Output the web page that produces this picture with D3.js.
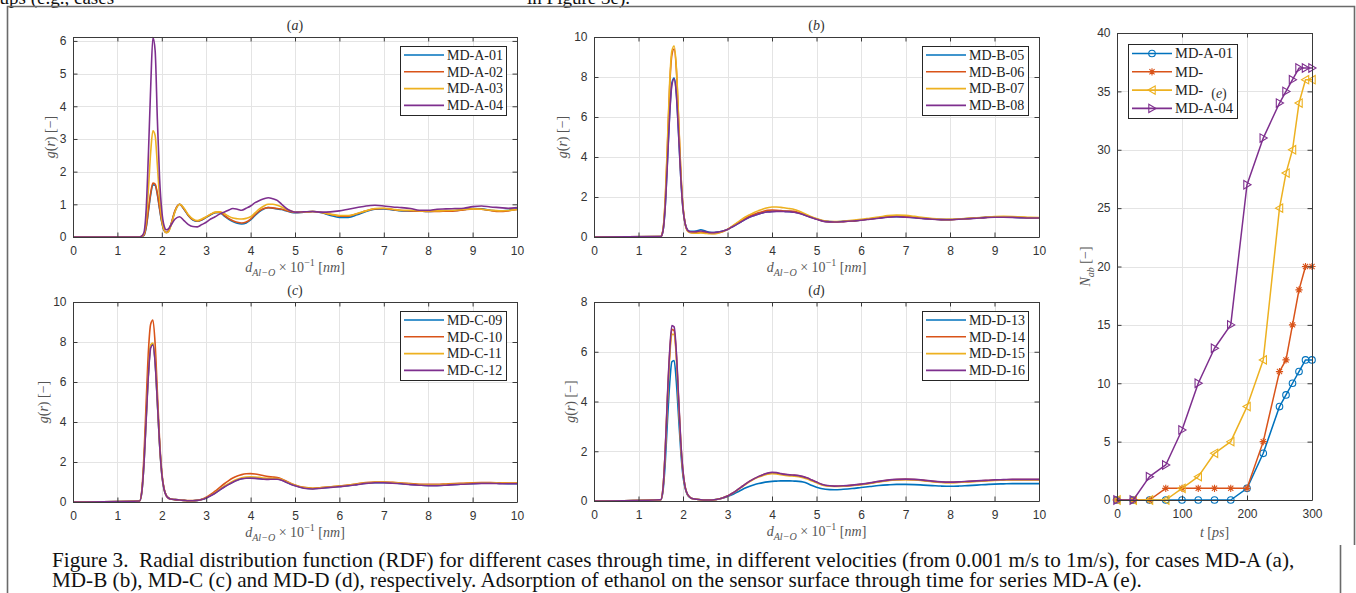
<!DOCTYPE html>
<html>
<head>
<meta charset="utf-8">
<script src="https://cdn.jsdelivr.net/npm/d3@7"></script>
<style>
  body { margin: 0; background: #fff; }
  svg { display: block; }
</style>
</head>
<body>
<script>
// r grid shared by all RDF curves (d_Al-O x 10^-1 nm)
const rGrid = [0,
  1.5,1.55,1.6,1.65,1.7,1.75,1.8,1.85,1.9,1.95,2.0,2.05,2.1,2.15,2.2,
  2.3,2.4,2.5,2.6,2.7,2.8,2.9,3.0,3.1,3.2,3.3,3.4,3.5,3.6,3.7,3.8,3.9,4.0,4.1,4.2,4.3,4.4,4.5,4.6,4.7,4.8,4.9,5.0,
  5.2,5.4,5.6,5.8,6.0,6.2,6.4,6.6,6.8,7.0,7.2,7.4,7.6,7.8,8.0,8.2,8.4,8.6,8.8,9.0,9.2,9.4,9.6,9.8,10];
const rTicks = [0,1,2,3,4,5,6,7,8,9,10];

// (a) MD-A
const gA01 = [0,
  0,0.02,0.05,0.3,0.8,1.3,1.6,1.58,1.3,0.85,0.45,0.2,0.14,0.18,0.35,
  0.8,1.0,0.85,0.65,0.52,0.48,0.52,0.6,0.68,0.74,0.75,0.65,0.55,0.47,0.42,0.4,0.43,0.52,0.66,0.78,0.86,0.9,0.88,0.86,0.84,0.8,0.76,0.74,
  0.76,0.78,0.74,0.66,0.6,0.6,0.68,0.78,0.85,0.86,0.83,0.8,0.8,0.79,0.78,0.79,0.8,0.81,0.84,0.87,0.86,0.82,0.8,0.82,0.86];
const gA02 = [0,
  0,0.02,0.06,0.33,0.85,1.35,1.65,1.62,1.33,0.88,0.47,0.21,0.14,0.18,0.36,
  0.82,1.0,0.86,0.66,0.53,0.49,0.53,0.61,0.69,0.75,0.76,0.67,0.57,0.5,0.45,0.43,0.46,0.55,0.68,0.8,0.87,0.9,0.89,0.87,0.85,0.81,0.77,0.75,
  0.76,0.78,0.75,0.69,0.64,0.64,0.71,0.8,0.86,0.87,0.84,0.81,0.8,0.79,0.78,0.78,0.79,0.8,0.83,0.86,0.85,0.81,0.78,0.8,0.84];
const gA03 = [0,
  0,0.03,0.1,0.55,1.5,2.6,3.25,3.1,2.2,1.2,0.55,0.22,0.13,0.16,0.32,
  0.78,1.0,0.88,0.68,0.55,0.5,0.55,0.62,0.7,0.76,0.77,0.72,0.64,0.58,0.56,0.55,0.57,0.62,0.74,0.86,0.95,1.0,1.0,0.97,0.92,0.85,0.8,0.76,
  0.76,0.78,0.75,0.7,0.66,0.66,0.72,0.8,0.87,0.88,0.85,0.82,0.82,0.8,0.8,0.8,0.81,0.82,0.84,0.86,0.85,0.82,0.8,0.81,0.84];
const gA04 = [0,
  0,0.03,0.15,0.9,2.6,4.6,6.1,5.7,3.6,1.8,0.8,0.35,0.22,0.25,0.35,
  0.55,0.62,0.5,0.38,0.32,0.31,0.38,0.45,0.55,0.62,0.7,0.76,0.82,0.87,0.85,0.82,0.88,0.95,1.05,1.12,1.17,1.2,1.17,1.12,1.0,0.88,0.8,0.76,
  0.77,0.78,0.76,0.77,0.8,0.85,0.9,0.95,0.97,0.95,0.92,0.9,0.87,0.82,0.82,0.85,0.86,0.87,0.88,0.93,0.95,0.92,0.9,0.88,0.9];

// (b) MD-B
const gB05 = [0,
  0.02,0.3,1.5,3.8,6.2,7.7,7.95,7.2,5.2,3.0,1.4,0.65,0.35,0.28,0.28,
  0.3,0.36,0.3,0.24,0.22,0.25,0.3,0.38,0.5,0.62,0.75,0.88,1.0,1.08,1.15,1.22,1.26,1.28,1.29,1.29,1.28,1.27,1.25,1.2,1.13,1.05,0.97,0.9,
  0.78,0.76,0.78,0.8,0.85,0.9,0.95,1.0,1.02,1.0,0.97,0.93,0.9,0.87,0.87,0.9,0.92,0.95,0.98,1.0,1.0,0.99,0.97,0.96,0.96];
const gB06 = [0,
  0.02,0.35,1.8,4.5,7.5,9.1,9.4,8.4,5.9,3.3,1.5,0.65,0.32,0.24,0.22,
  0.22,0.24,0.22,0.19,0.18,0.21,0.28,0.38,0.52,0.66,0.8,0.93,1.05,1.14,1.22,1.28,1.33,1.35,1.34,1.32,1.3,1.3,1.28,1.22,1.14,1.05,0.97,0.9,
  0.78,0.75,0.77,0.8,0.85,0.9,0.96,1.02,1.05,1.03,0.99,0.94,0.9,0.87,0.87,0.89,0.92,0.95,0.98,1.0,1.01,1.0,0.98,0.96,0.96];
const gB07 = [0,
  0.02,0.35,1.9,4.7,7.7,9.3,9.55,8.5,6.0,3.3,1.5,0.62,0.3,0.22,0.2,
  0.19,0.2,0.18,0.16,0.16,0.2,0.27,0.38,0.53,0.69,0.85,1.0,1.12,1.23,1.32,1.4,1.46,1.5,1.5,1.48,1.45,1.42,1.38,1.3,1.2,1.1,1.0,0.92,
  0.8,0.77,0.79,0.83,0.88,0.94,1.0,1.07,1.1,1.08,1.03,0.97,0.92,0.89,0.88,0.9,0.93,0.96,0.99,1.02,1.03,1.02,1.0,0.98,0.97];
const gB08 = [0,
  0.02,0.3,1.5,3.7,6.1,7.6,7.9,7.15,5.2,3.0,1.4,0.65,0.35,0.27,0.26,
  0.27,0.3,0.27,0.22,0.22,0.25,0.3,0.38,0.5,0.62,0.75,0.88,1.0,1.08,1.15,1.21,1.25,1.27,1.28,1.28,1.27,1.26,1.24,1.19,1.12,1.04,0.96,0.89,
  0.77,0.75,0.77,0.8,0.84,0.89,0.94,0.99,1.01,0.99,0.96,0.92,0.89,0.87,0.86,0.89,0.91,0.94,0.97,0.99,0.99,0.98,0.96,0.95,0.95];

// (c) MD-C
const gC09 = [0,
  0.05,0.5,2.0,4.3,6.5,7.8,7.9,7.0,5.0,2.9,1.4,0.65,0.32,0.2,0.15,
  0.12,0.1,0.08,0.06,0.06,0.08,0.12,0.2,0.32,0.45,0.6,0.75,0.88,1.0,1.1,1.17,1.2,1.2,1.19,1.17,1.15,1.14,1.15,1.15,1.1,1.0,0.9,0.82,
  0.7,0.66,0.7,0.74,0.78,0.82,0.88,0.94,0.97,0.97,0.95,0.92,0.88,0.85,0.83,0.83,0.85,0.88,0.9,0.92,0.94,0.94,0.93,0.92,0.92];
const gC10 = [0,
  0.05,0.6,2.4,5.1,7.6,8.9,9.1,7.9,5.5,3.1,1.5,0.68,0.33,0.2,0.15,
  0.12,0.1,0.08,0.07,0.07,0.09,0.14,0.24,0.38,0.54,0.72,0.9,1.06,1.2,1.3,1.37,1.41,1.42,1.4,1.36,1.31,1.27,1.25,1.22,1.15,1.05,0.94,0.85,
  0.73,0.69,0.72,0.76,0.8,0.85,0.91,0.97,1.0,1.0,0.98,0.95,0.92,0.89,0.88,0.88,0.9,0.92,0.94,0.96,0.97,0.97,0.96,0.95,0.95];
const gC11 = [0,
  0.05,0.5,2.0,4.3,6.5,7.85,7.95,7.05,5.0,2.9,1.4,0.65,0.32,0.2,0.15,
  0.12,0.1,0.08,0.06,0.06,0.08,0.13,0.21,0.33,0.47,0.62,0.78,0.92,1.04,1.14,1.21,1.25,1.26,1.25,1.23,1.2,1.18,1.18,1.17,1.12,1.02,0.92,0.84,
  0.72,0.68,0.72,0.76,0.8,0.84,0.9,0.96,0.99,0.99,0.97,0.94,0.9,0.87,0.86,0.86,0.88,0.9,0.92,0.94,0.96,0.96,0.95,0.94,0.94];
const gC12 = [0,
  0.05,0.5,1.95,4.2,6.4,7.7,7.85,6.95,5.0,2.9,1.4,0.65,0.32,0.2,0.15,
  0.12,0.1,0.08,0.06,0.06,0.08,0.12,0.2,0.31,0.44,0.59,0.74,0.87,0.99,1.09,1.16,1.19,1.19,1.18,1.16,1.14,1.13,1.14,1.14,1.09,0.99,0.89,0.81,
  0.69,0.65,0.69,0.73,0.77,0.81,0.87,0.93,0.96,0.96,0.94,0.91,0.87,0.84,0.82,0.82,0.84,0.87,0.89,0.91,0.93,0.93,0.92,0.91,0.91];

// (d) MD-D
const gD13 = [0,
  0.05,0.4,1.5,3.2,4.7,5.6,5.65,4.8,3.4,2.0,1.0,0.5,0.25,0.15,0.1,
  0.07,0.05,0.04,0.04,0.05,0.08,0.12,0.18,0.25,0.34,0.43,0.52,0.59,0.65,0.7,0.74,0.77,0.79,0.8,0.81,0.81,0.81,0.8,0.79,0.76,0.7,0.62,0.55,
  0.47,0.45,0.47,0.5,0.54,0.58,0.62,0.65,0.67,0.67,0.66,0.64,0.62,0.6,0.59,0.6,0.62,0.64,0.66,0.68,0.69,0.7,0.7,0.7,0.7];
const gD14 = [0,
  0.05,0.5,2.0,4.1,5.9,6.9,6.85,5.9,4.1,2.35,1.15,0.55,0.27,0.16,0.1,
  0.07,0.05,0.04,0.04,0.05,0.08,0.13,0.2,0.3,0.42,0.55,0.68,0.8,0.9,0.98,1.05,1.1,1.13,1.12,1.09,1.06,1.04,1.03,1.01,0.97,0.91,0.83,0.75,
  0.62,0.59,0.6,0.63,0.67,0.72,0.78,0.83,0.86,0.87,0.86,0.83,0.79,0.76,0.75,0.76,0.78,0.8,0.82,0.84,0.85,0.86,0.86,0.86,0.86];
const gD15 = [0,
  0.05,0.5,1.95,4.0,5.75,6.7,6.7,5.8,4.0,2.3,1.15,0.55,0.27,0.16,0.1,
  0.07,0.05,0.04,0.04,0.05,0.08,0.13,0.2,0.3,0.41,0.54,0.66,0.78,0.88,0.96,1.03,1.08,1.1,1.09,1.06,1.03,1.01,1.0,0.98,0.94,0.88,0.8,0.73,
  0.61,0.58,0.59,0.62,0.66,0.71,0.77,0.82,0.85,0.86,0.85,0.82,0.78,0.75,0.74,0.75,0.77,0.79,0.81,0.83,0.84,0.85,0.85,0.85,0.85];
const gD16 = [0,
  0.05,0.5,2.0,4.2,6.0,7.05,7.0,6.0,4.2,2.4,1.2,0.55,0.28,0.16,0.1,
  0.07,0.05,0.04,0.04,0.05,0.08,0.13,0.2,0.3,0.42,0.55,0.68,0.8,0.9,0.99,1.06,1.12,1.15,1.14,1.1,1.07,1.05,1.04,1.02,0.98,0.92,0.84,0.76,
  0.63,0.6,0.61,0.64,0.68,0.73,0.79,0.84,0.87,0.88,0.87,0.84,0.8,0.77,0.76,0.77,0.79,0.81,0.83,0.85,0.86,0.87,0.87,0.87,0.87];

const namesA = ["MD-A-01", "MD-A-02", "MD-A-03", "MD-A-04"];
const namesB = ["MD-B-05", "MD-B-06", "MD-B-07", "MD-B-08"];
const namesC = ["MD-C-09", "MD-C-10", "MD-C-11", "MD-C-12"];
const namesD = ["MD-D-13", "MD-D-14", "MD-D-15", "MD-D-16"];

// (e) adsorbed molecules vs time
const tE = [0, 25, 50, 75, 100, 125, 150, 175, 200, 225, 250, 260, 270, 280, 290, 300];
const nA01 = [0, 0, 0, 0, 0, 0, 0, 0, 1, 4, 8, 9, 10, 11, 12, 12];
const nA02 = [0, 0, 0, 1, 1, 1, 1, 1, 1, 5, 11, 12, 15, 18, 20, 20];
const nA03 = [0, 0, 0, 0, 1, 2, 4, 5, 8, 12, 25, 28, 30, 34, 36, 36];
const nA04 = [0, 0, 2, 3, 6, 10, 13, 15, 27, 31, 34, 35, 36, 37, 37, 37];
const tTicks = [0, 100, 200, 300];
const nTicks = [0, 5, 10, 15, 20, 25, 30, 35, 40];

const captionLines = [
  "Figure 3.  Radial distribution function (RDF) for different cases through time, in different velocities (from 0.001 m/s to 1m/s), for cases MD-A (a),",
  "MD-B (b), MD-C (c) and MD-D (d), respectively. Adsorption of ethanol on the sensor surface through time for series MD-A (e)."
];

const colors = ["#0072BD", "#D95319", "#EDB120", "#7E2F8E"];
const serif = "'Liberation Serif','Times New Roman',serif";
const sans = "'Liberation Sans',Arial,Helvetica,sans-serif";

const svg = d3.select("body").append("svg").attr("width", 1356).attr("height", 593);
svg.append("rect").attr("width", 1356).attr("height", 593).attr("fill", "#fff");

// page text cut off at the very top
svg.append("text").attr("x", -30).attr("y", 4).attr("font-family", serif).attr("font-size", 19)
  .attr("fill", "#111").text("Groups (e.g., cases");
svg.append("text").attr("x", 630).attr("y", 4).attr("text-anchor", "end").attr("font-family", serif)
  .attr("font-size", 19).attr("fill", "#111").text("in Figure 3e).");

// frame lines of the figure / caption cell
svg.append("path").attr("d", "M7.5,593V6.5H1354.5V545").attr("fill", "none").attr("stroke", "#6a6a6a").attr("stroke-width", 1.6);
svg.append("path").attr("d", "M1340.5,545V593").attr("fill", "none").attr("stroke", "#6a6a6a").attr("stroke-width", 1.6);

// write text made of italic / sub / super pieces (latex-ish labels)
function rich(sel, segs, size) {
  let cur = 0;
  segs.forEach((s) => {
    const off = s.sub ? size * 0.3 : s.sup ? -size * 0.42 : 0;
    sel.append("tspan")
      .attr("dy", off - cur)
      .attr("font-size", (s.sub || s.sup) ? size * 0.72 : size)
      .attr("font-style", s.it ? "italic" : "normal")
      .text(s.t);
    cur = off;
  });
}

const xLabelSegs = [{t: "d", it: true}, {t: "Al−O", it: true, sub: true}, {t: " × 10"}, {t: "−1", sup: true},
  {t: " ["}, {t: "nm", it: true}, {t: "]"}];
const yLabelSegs = [{t: "g", it: true}, {t: "("}, {t: "r", it: true}, {t: ") [−]"}];

function gridLines(p, x, y, xTicks, yTicks) {
  const g = svg.append("g").attr("stroke", "#e4e4e4").attr("stroke-width", 1);
  g.selectAll(".gx").data(xTicks).enter().append("line")
    .attr("x1", (d) => Math.round(x(d)) + 0.5).attr("x2", (d) => Math.round(x(d)) + 0.5)
    .attr("y1", p.top).attr("y2", p.bottom);
  g.selectAll(".gy").data(yTicks).enter().append("line")
    .attr("y1", (d) => Math.round(y(d)) + 0.5).attr("y2", (d) => Math.round(y(d)) + 0.5)
    .attr("x1", p.left).attr("x2", p.right);
}

function axesBox(p, x, y, xTicks, yTicks) {
  const tl = 4.5;
  const styleAx = (sel) => {
    sel.attr("font-family", sans).attr("font-size", 12);
    sel.selectAll("path").attr("stroke", "#3a3a3a");
    sel.selectAll("line").attr("stroke", "#3a3a3a");
    sel.selectAll("text").attr("fill", "#333");
  };
  svg.append("g").attr("transform", `translate(0,${p.bottom})`)
    .call(d3.axisBottom(x).tickValues(xTicks).tickSize(-tl).tickSizeOuter(0).tickPadding(9).tickFormat(d3.format("d")))
    .call(styleAx);
  svg.append("g").attr("transform", `translate(0,${p.top})`)
    .call(d3.axisTop(x).tickValues(xTicks).tickSize(-tl).tickSizeOuter(0).tickFormat(""))
    .call(styleAx);
  svg.append("g").attr("transform", `translate(${p.left},0)`)
    .call(d3.axisLeft(y).tickValues(yTicks).tickSize(-tl).tickSizeOuter(0).tickPadding(6.5).tickFormat(d3.format("d")))
    .call(styleAx);
  svg.append("g").attr("transform", `translate(${p.right},0)`)
    .call(d3.axisRight(y).tickValues(yTicks).tickSize(-tl).tickSizeOuter(0).tickFormat(""))
    .call(styleAx);
}

function labels(p, title, xSegs, ySegs, yLabX, xLabY) {
  const cx = (p.left + p.right) / 2;
  const t = svg.append("text").attr("x", cx).attr("y", p.top - 7).attr("text-anchor", "middle")
    .attr("font-family", serif).attr("fill", "#333");
  rich(t, [{t: "("}, {t: title, it: true}, {t: ")"}], 14);
  const xl = svg.append("text").attr("x", cx).attr("y", xLabY).attr("text-anchor", "middle")
    .attr("font-family", serif).attr("fill", "#555");
  rich(xl, xSegs, 14);
  const yl = svg.append("text").attr("transform", `translate(${yLabX + 5},${(p.top + p.bottom) / 2}) rotate(-90)`)
    .attr("text-anchor", "middle").attr("font-family", serif).attr("fill", "#555");
  rich(yl, ySegs, 14);
}

const markerPaths = {
  circle: d3.symbol().type(d3.symbolCircle).size(34)(),
  star: "M-3.6,0H3.6M0,-3.6V3.6M-2.6,-2.6L2.6,2.6M-2.6,2.6L2.6,-2.6",
  left: "M-4,0L3.2,-4.2L3.2,4.2Z",
  right: "M4,0L-3.2,-4.2L-3.2,4.2Z"
};

function legend(bx, by, w, h, rows, rowStep, names, markers, fs) {
  const g = svg.append("g");
  g.append("rect").attr("x", bx + 0.5).attr("y", by + 0.5).attr("width", w).attr("height", h)
    .attr("fill", "#fff").attr("stroke", "#262626").attr("stroke-width", 1);
  names.forEach((n, i) => {
    const yy = by + rows + i * rowStep;
    g.append("line").attr("x1", bx + 4).attr("x2", bx + 44).attr("y1", yy).attr("y2", yy)
      .attr("stroke", colors[i]).attr("stroke-width", 1.6);
    if (markers) {
      g.append("path").attr("d", markerPaths[markers[i]]).attr("transform", `translate(${bx + 24},${yy})`)
        .attr("fill", "none").attr("stroke", colors[i]).attr("stroke-width", 1.1);
    }
    g.append("text").attr("x", bx + 47).attr("y", yy + fs * 0.34).attr("font-family", serif)
      .attr("font-size", fs).attr("fill", "#222").text(n);
  });
}

// RDF panels a-d
const rdfPanels = [
  {id: "a", left: 73, right: 517, top: 37, bottom: 237, yMax: 6.12, yTicks: [0, 1, 2, 3, 4, 5, 6],
    series: [gA01, gA02, gA03, gA04], names: namesA, yLabX: 50},
  {id: "b", left: 594, right: 1039, top: 37, bottom: 237, yMax: 10, yTicks: [0, 2, 4, 6, 8, 10],
    series: [gB05, gB06, gB07, gB08], names: namesB, yLabX: 562},
  {id: "c", left: 73, right: 517, top: 302, bottom: 502, yMax: 10, yTicks: [0, 2, 4, 6, 8, 10],
    series: [gC09, gC10, gC11, gC12], names: namesC, yLabX: 43},
  {id: "d", left: 594, right: 1039, top: 302, bottom: 501, yMax: 8, yTicks: [0, 2, 4, 6, 8],
    series: [gD13, gD14, gD15, gD16], names: namesD, yLabX: 570}
];

rdfPanels.forEach((p) => {
  const x = d3.scaleLinear().domain([0, 10]).range([p.left, p.right]);
  const y = d3.scaleLinear().domain([0, p.yMax]).range([p.bottom, p.top]);
  gridLines(p, x, y, rTicks, p.yTicks);

  const line = d3.line().x((d) => x(d[0])).y((d) => y(d[1])).curve(d3.curveMonotoneX);
  p.series.forEach((s, i) => {
    svg.append("path").datum(rGrid.map((r, k) => [r, s[k]]))
      .attr("d", line).attr("fill", "none").attr("stroke", colors[i])
      .attr("stroke-width", 1.6).attr("stroke-linejoin", "round");
  });

  axesBox(p, x, y, rTicks, p.yTicks);
  labels(p, p.id, xLabelSegs, yLabelSegs, p.yLabX, p.bottom + 35);
  legend(p.right - 117, p.top + 9, 106, 69, 9, 16.8, p.names, null, 14);
});

// panel e
const pe = {left: 1117, right: 1312, top: 33, bottom: 500};
const xE = d3.scaleLinear().domain([0, 300]).range([pe.left, pe.right]);
const yE = d3.scaleLinear().domain([0, 40]).range([pe.bottom, pe.top]);
gridLines(pe, xE, yE, tTicks, nTicks);

const seriesE = [nA01, nA02, nA03, nA04];
const markersE = ["circle", "star", "left", "right"];
const lineE = d3.line().x((d) => xE(d[0])).y((d) => yE(d[1]));
seriesE.forEach((s, i) => {
  const pts = tE.map((t, k) => [t, s[k]]);
  svg.append("path").datum(pts).attr("d", lineE).attr("fill", "none")
    .attr("stroke", colors[i]).attr("stroke-width", 1.5).attr("stroke-linejoin", "round");
  svg.append("g").selectAll("path").data(pts).enter().append("path")
    .attr("d", markerPaths[markersE[i]])
    .attr("transform", (d) => `translate(${xE(d[0])},${yE(d[1])})`)
    .attr("fill", "none").attr("stroke", colors[i]).attr("stroke-width", 1.1);
});
axesBox(pe, xE, yE, tTicks, nTicks);

const xlE = svg.append("text").attr("x", (pe.left + pe.right) / 2).attr("y", 537).attr("text-anchor", "middle")
  .attr("font-family", serif).attr("fill", "#555");
rich(xlE, [{t: "t", it: true}, {t: " ["}, {t: "ps", it: true}, {t: "]"}], 14);
const ylE = svg.append("text").attr("transform", `translate(${1085 + 5},${(pe.top + pe.bottom) / 2}) rotate(-90)`)
  .attr("text-anchor", "middle").attr("font-family", serif).attr("fill", "#555");
rich(ylE, [{t: "N", it: true}, {t: "ab", it: true, sub: true}, {t: " [−]"}], 14);

legend(1128, 44, 109, 74, 9.5, 18.3, namesA, markersE, 14.5);
// title (e) sits over the legend with its white background
svg.append("rect").attr("x", 1203).attr("y", 63).attr("width", 32).attr("height", 37).attr("fill", "#fff");
const tE_ = svg.append("text").attr("x", 1219).attr("y", 98).attr("text-anchor", "middle")
  .attr("font-family", serif).attr("fill", "#333");
rich(tE_, [{t: "("}, {t: "e", it: true}, {t: ")"}], 14);

// caption, sized to the measured width of the first line
const cap = captionLines.map((c, i) => svg.append("text").attr("x", 52).attr("y", 567 + i * 19.5)
  .attr("font-family", serif).attr("font-size", 19).attr("fill", "#111")
  .style("white-space", "pre").text(c));
const w1 = cap[0].node().getComputedTextLength();
const fs = 19 * 1243 / w1;
cap.forEach((c) => c.attr("font-size", fs));
</script>
</body>
</html>
